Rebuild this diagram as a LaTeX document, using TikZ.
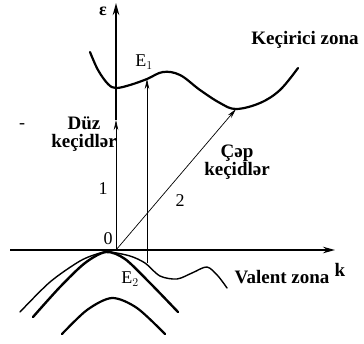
\documentclass[tikz,border=0pt]{standalone}
\usepackage{fontspec}
\setmainfont{Liberation Serif}
\usetikzlibrary{arrows.meta}
\begin{document}
\begin{tikzpicture}[x=1pt,y=-1pt,
    banda/.style={line width=2.2pt, line cap=round, line join=round},
    trans/.style={line width=0.7pt, -{Stealth[length=10pt,width=4.5pt]}},
    eje/.style={line width=1.6pt, -{Stealth[length=12pt,width=6.5pt]}},
    etiq/.style={font=\bfseries\fontsize{19}{18}\selectfont, align=center, inner sep=1pt},
    simb/.style={font=\fontsize{18}{18}\selectfont, inner sep=1pt}]
    \useasboundingbox (0,0) rectangle (364,343);
    % Ejes
    \coordinate (O) at (116,250);
    \coordinate (kini) at (10,250);
    \coordinate (kfin) at (335,250);
    \coordinate (eini) at (116,120);
    \coordinate (efin) at (116,3);
    \draw[eje] (kini) -- (kfin);
    \draw[eje, line width=2.2pt] (eini) -- (efin);
    \node[simb, font=\bfseries\fontsize{18}{18}\selectfont] (eps) at (103,11) {ε};
    \node[etiq] (k) at (340,270) {k};
    \node[simb] (cero) at (108,239) {0};

    % Zona de conduccion
    \draw[banda] plot[smooth, tension=0.6] coordinates {(90,52) (98,70) (108,84) (116,88) (130,85) (147,79)
        (163,72) (180,75) (200,90) (220,103) (236,109) (260,103) (280,90) (298,68)};
    \coordinate (E1p) at (147,79);
    \coordinate (Cmin) at (236,109);
    \node[etiq] (cond) at (305,40) {Keçirici zona};
    \node[simb] (E1) at (144,62) {E$_1$};

    % Zonas de valencia
    \draw[banda, line width=1.4pt] plot[smooth, tension=0.5] coordinates {(20,312) (50,282) (80,261) (100,253) (110,252)
        (130,256) (145,263) (160,276) (177,279) (192,273) (207,267) (218,276) (227,288)};
    \draw[banda, line width=2.4pt] plot[smooth, tension=0.5] coordinates {(33,317) (60,287) (85,263) (106,252)
        (125,259) (150,283) (178,312)};
    \draw[banda] plot[smooth, tension=0.5] coordinates {(62,334) (87,310) (112,298) (137,308) (165,334)};
    \coordinate (E2p) at (147,263);
    \node[etiq] (val) at (282,277) {Valent zona};
    \node[simb] (E2) at (130,279) {E$_2$};

    % Transiciones
    \draw[trans] (O) -- (eini);
    \draw[trans] (E2p) -- (E1p);
    \draw[trans] (O) -- (Cmin);
    \node[simb] (uno) at (103,189) {1};
    \node[simb] (dos) at (180,201) {2};
    \node[etiq] (duz) at (84,134) {Düz\\keçidlər};
    \node[etiq] (cap) at (237,162) {Çəp\\keçidlər};
    \node[simb] (raya) at (22,126) {-};
\end{tikzpicture}
\end{document}
